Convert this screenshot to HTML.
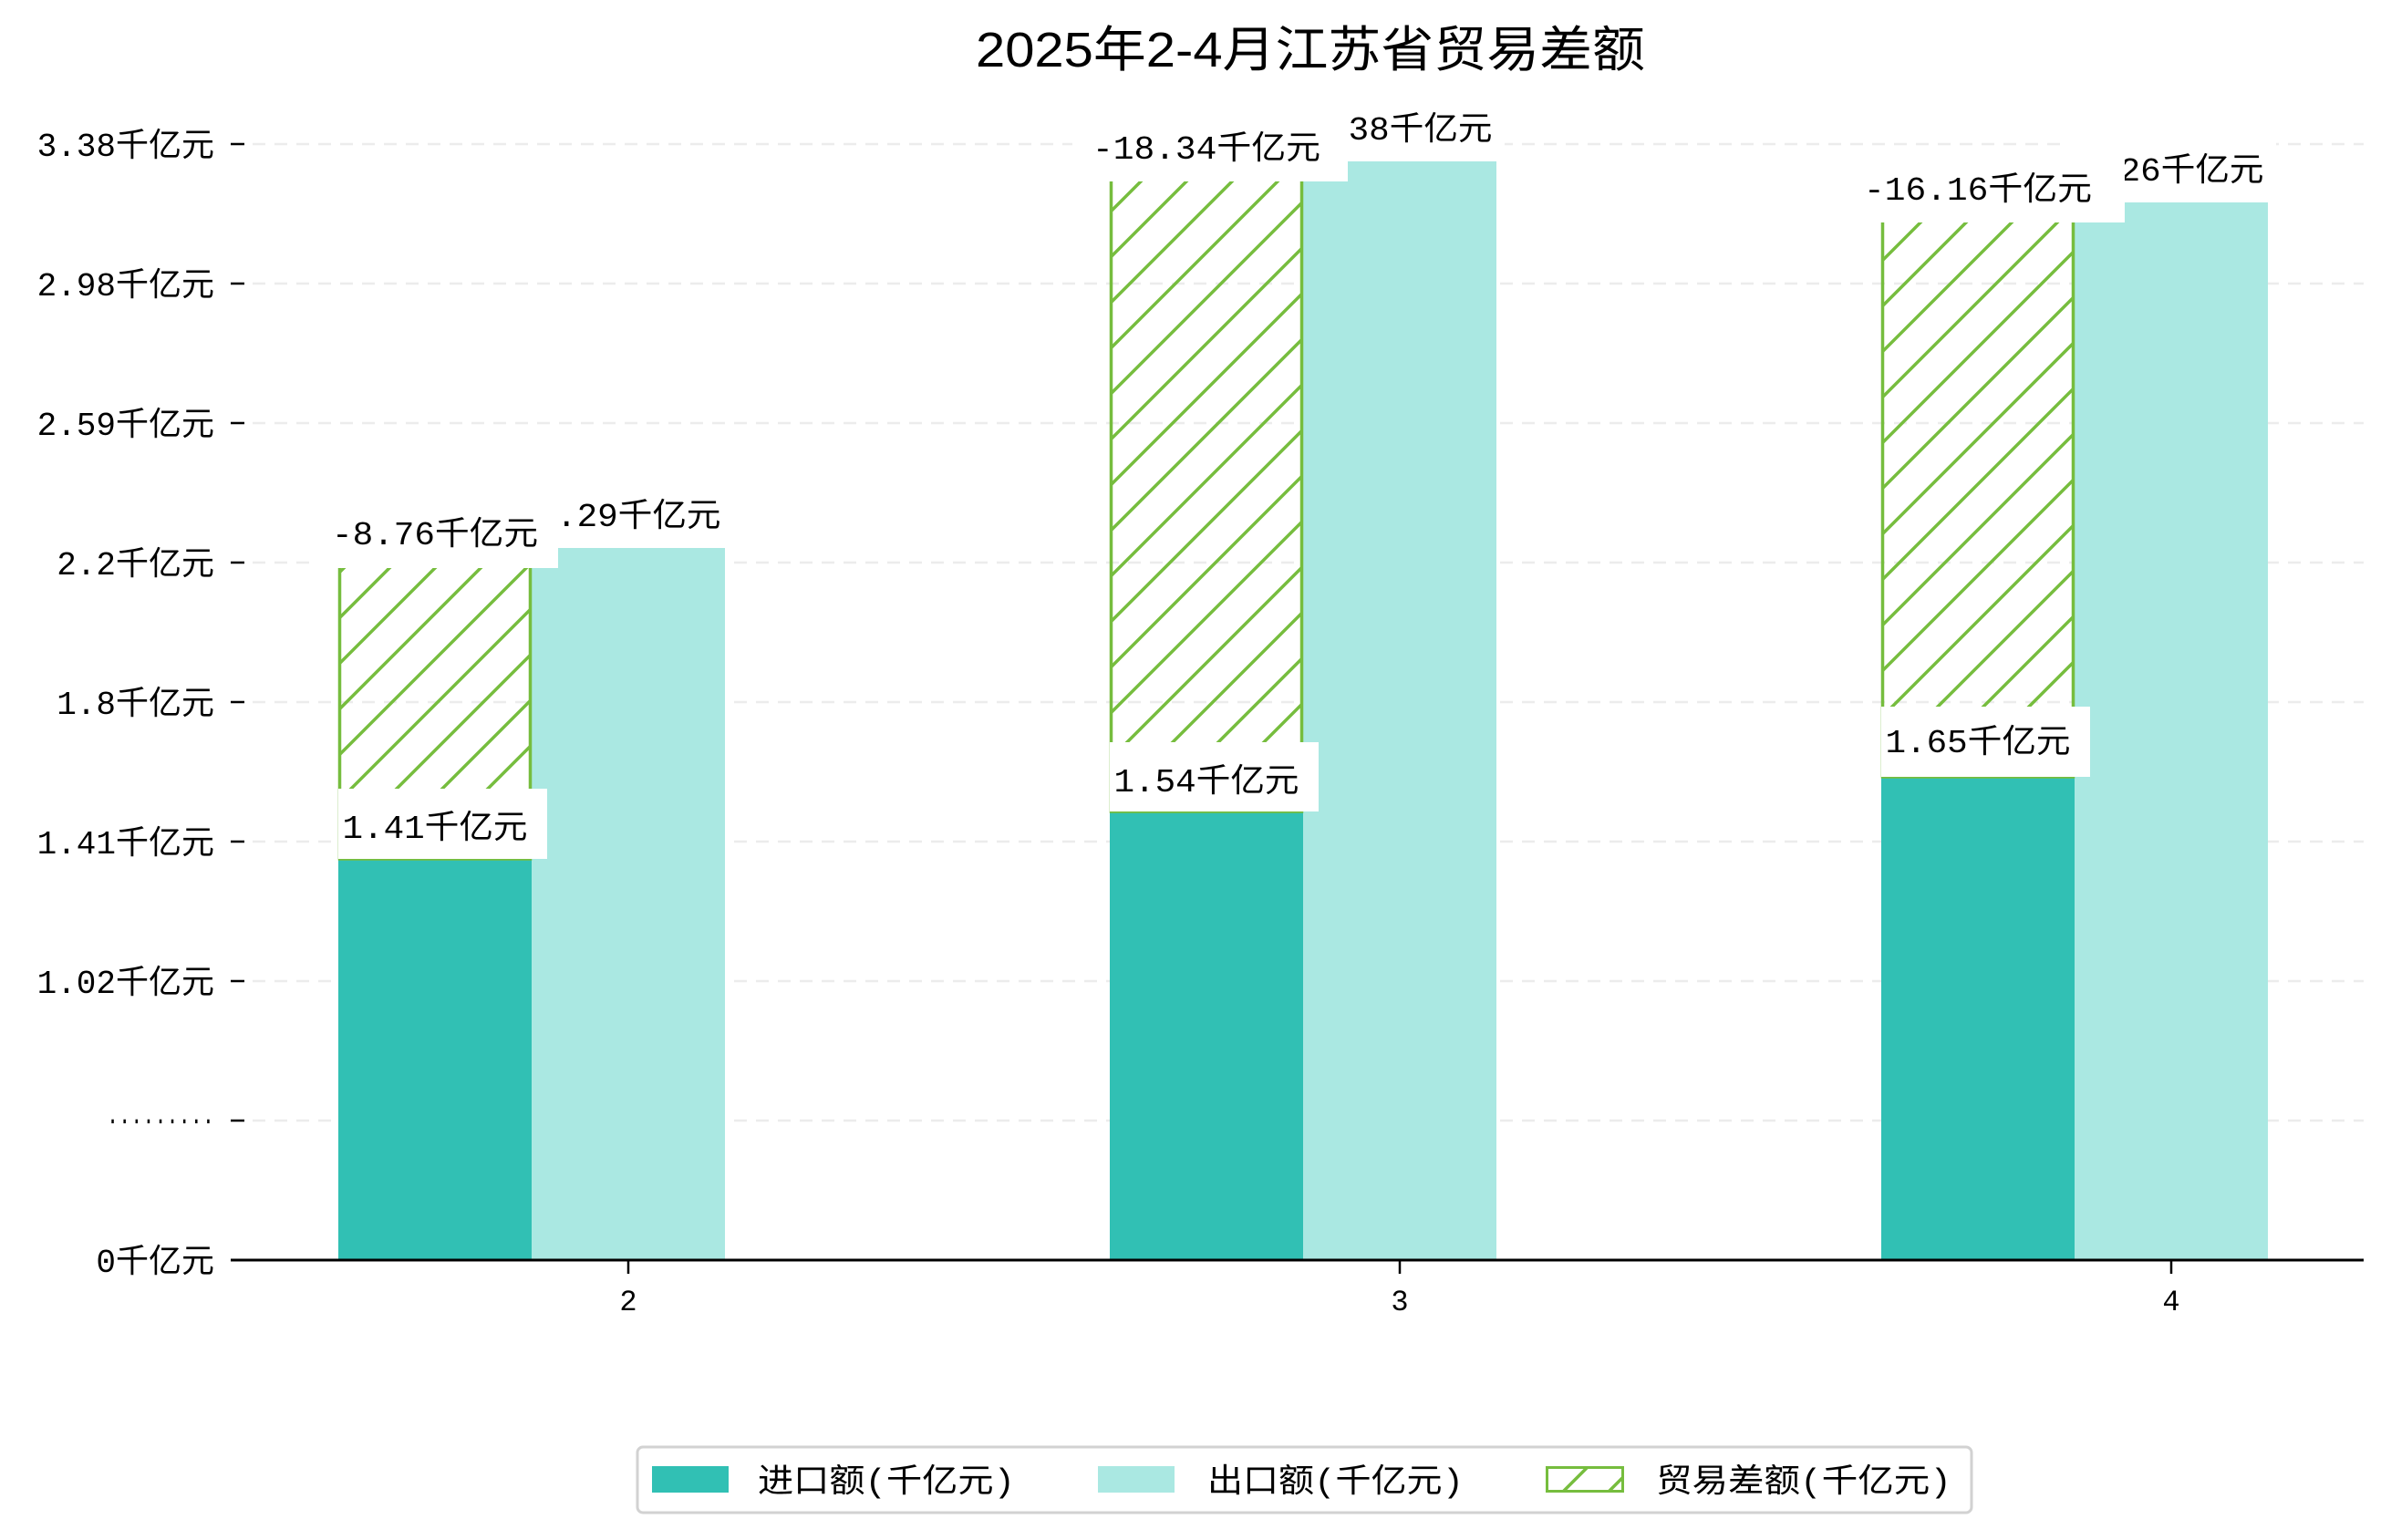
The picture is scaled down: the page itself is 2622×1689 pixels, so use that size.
<!DOCTYPE html>
<html><head><meta charset="utf-8"><style>
html,body{margin:0;padding:0;background:#fff;}
svg{display:block;}
text{font-family:"Liberation Mono","WenQuanYi Zen Hei","Noto Sans CJK SC",monospace;fill:#000;}
.t{font-family:"Liberation Sans","WenQuanYi Zen Hei","Noto Sans CJK SC",sans-serif;}
</style></head><body>
<svg width="2622" height="1689" viewBox="0 0 2622 1689" xmlns="http://www.w3.org/2000/svg">
<defs>
<pattern id="h" patternUnits="userSpaceOnUse" width="50" height="50">
<path d="M-10,10 L10,-10 M0,50 L50,0 M40,60 L60,40" stroke="#76bd3e" stroke-width="3.5"/>
</pattern>
</defs>
<text class="t" x="1437" y="73" font-size="54" text-anchor="middle" textLength="734" lengthAdjust="spacingAndGlyphs">2025年2-4月江苏省贸易差额</text>
<g stroke="#ececec" stroke-width="2.5" stroke-dasharray="14,10">
<line x1="253" y1="1229" x2="2592" y2="1229"/><line x1="253" y1="1076" x2="2592" y2="1076"/>
<line x1="253" y1="923" x2="2592" y2="923"/><line x1="253" y1="770" x2="2592" y2="770"/>
<line x1="253" y1="617" x2="2592" y2="617"/><line x1="253" y1="464" x2="2592" y2="464"/>
<line x1="253" y1="311" x2="2592" y2="311"/><line x1="253" y1="158" x2="2592" y2="158"/>
</g>
<g stroke="#000" stroke-width="2.5">
<line x1="253" y1="1382" x2="268" y2="1382"/><line x1="253" y1="1229" x2="268" y2="1229"/>
<line x1="253" y1="1076" x2="268" y2="1076"/><line x1="253" y1="923" x2="268" y2="923"/>
<line x1="253" y1="770" x2="268" y2="770"/><line x1="253" y1="617" x2="268" y2="617"/>
<line x1="253" y1="464" x2="268" y2="464"/><line x1="253" y1="311" x2="268" y2="311"/>
<line x1="253" y1="158" x2="268" y2="158"/>
</g>
<g font-size="36" text-anchor="end">
<text x="235" y="1395">0千亿元</text>
<text x="235" y="1238" font-size="30" textLength="118" lengthAdjust="spacingAndGlyphs">·········</text>
<text x="235" y="1089">1.02千亿元</text>
<text x="235" y="936">1.41千亿元</text>
<text x="235" y="783">1.8千亿元</text>
<text x="235" y="630">2.2千亿元</text>
<text x="235" y="477">2.59千亿元</text>
<text x="235" y="324">2.98千亿元</text>
<text x="235" y="171">3.38千亿元</text>
</g>
<rect x="371" y="942" width="212" height="440" fill="#31c0b4"/>
<rect x="583" y="601" width="212" height="781" fill="#aae8e2"/>
<rect x="372.5" y="621" width="209" height="321" fill="url(#h)" stroke="#76bd3e" stroke-width="3.5"/>
<rect x="1217" y="890" width="212" height="492" fill="#31c0b4"/>
<rect x="1429" y="177" width="212" height="1205" fill="#aae8e2"/>
<rect x="1218.5" y="196" width="209" height="694" fill="url(#h)" stroke="#76bd3e" stroke-width="3.5"/>
<rect x="2063" y="852" width="212" height="530" fill="#31c0b4"/>
<rect x="2275" y="222" width="212" height="1160" fill="#aae8e2"/>
<rect x="2064.5" y="242" width="209" height="610" fill="url(#h)" stroke="#76bd3e" stroke-width="3.5"/>
<g font-size="36" text-anchor="middle">
<rect x="573" y="523" width="230" height="77" fill="#fff"/><text x="689" y="577" textLength="203" lengthAdjust="spacingAndGlyphs">2.29千亿元</text>
<rect x="344" y="545" width="268" height="78" fill="#fff"/><text x="477" y="597" textLength="226" lengthAdjust="spacingAndGlyphs">-8.76千亿元</text>
<rect x="371" y="865" width="229" height="77" fill="#fff"/><text x="477" y="919" textLength="203" lengthAdjust="spacingAndGlyphs">1.41千亿元</text>

<rect x="1420" y="99" width="230" height="77" fill="#fff"/><text x="1535" y="153" textLength="203" lengthAdjust="spacingAndGlyphs">3.38千亿元</text>
<rect x="1176" y="121" width="302" height="78" fill="#fff"/><text x="1323" y="174" textLength="250" lengthAdjust="spacingAndGlyphs">-18.34千亿元</text>
<rect x="1217" y="814" width="229" height="76" fill="#fff"/><text x="1323" y="868" textLength="203" lengthAdjust="spacingAndGlyphs">1.54千亿元</text>

<rect x="2266" y="144" width="230" height="77" fill="#fff"/><text x="2381" y="198" textLength="203" lengthAdjust="spacingAndGlyphs">3.26千亿元</text>
<rect x="2022" y="166" width="308" height="78" fill="#fff"/><text x="2169" y="219" textLength="250" lengthAdjust="spacingAndGlyphs">-16.16千亿元</text>
<rect x="2063" y="775" width="229" height="77" fill="#fff"/><text x="2169" y="825" textLength="203" lengthAdjust="spacingAndGlyphs">1.65千亿元</text>
</g>
<line x1="253" y1="1382" x2="2592" y2="1382" stroke="#000" stroke-width="3"/>
<g stroke="#000" stroke-width="2.5">
<line x1="689" y1="1382" x2="689" y2="1397"/><line x1="1535" y1="1382" x2="1535" y2="1397"/><line x1="2381" y1="1382" x2="2381" y2="1397"/>
</g>
<g font-size="32" text-anchor="middle">
<text x="689" y="1437">2</text><text x="1535" y="1437">3</text><text x="2381" y="1437">4</text>
</g>
<rect x="699" y="1587" width="1463" height="72" rx="6" fill="#fff" stroke="#d2d2d2" stroke-width="3"/>
<rect x="715" y="1608" width="84" height="29" fill="#31c0b4"/>
<rect x="1204" y="1608" width="84" height="29" fill="#aae8e2"/>
<rect x="1696.5" y="1609.5" width="83" height="26" fill="url(#h)" stroke="#76bd3e" stroke-width="3"/>
<g font-size="36">
<text x="831" y="1636" textLength="282" lengthAdjust="spacingAndGlyphs">进口额(千亿元)</text>
<text x="1324" y="1636" textLength="281" lengthAdjust="spacingAndGlyphs">出口额(千亿元)</text>
<text x="1816" y="1636" textLength="324" lengthAdjust="spacingAndGlyphs">贸易差额(千亿元)</text>
</g>
</svg>
</body></html>
